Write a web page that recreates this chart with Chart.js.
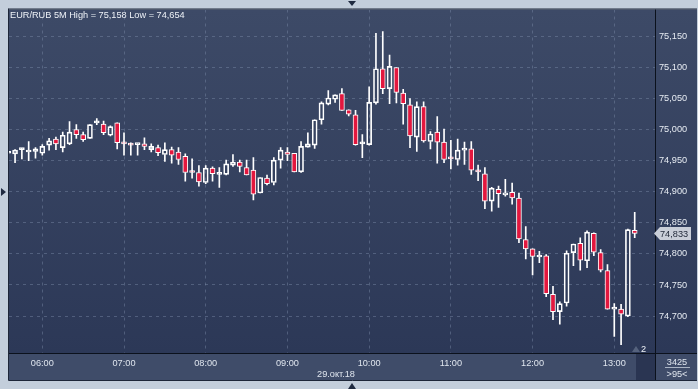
<!DOCTYPE html>
<html><head><meta charset="utf-8">
<script src="https://cdn.jsdelivr.net/npm/chart.js@4/dist/chart.umd.min.js"></script>
<style>html,body{margin:0;padding:0;background:#c3cedb;overflow:hidden}canvas{display:block}</style>
</head><body>
<canvas id="c" width="698" height="389"></canvas>
<script>
const titleText = 'EUR/RUB 5M High = 75,158 Low = 74,654';
const dateLabel = '29.окт.18';
const counterTop = '3425';
const counterBottom = '>95<';
const markerLabel = '2';

const times = ['05:35','05:40','05:45','05:50','05:55',
'06:00','06:05','06:10','06:15','06:20','06:25','06:30','06:35','06:40','06:45','06:50','06:55',
'07:00','07:05','07:10','07:15','07:20','07:25','07:30','07:35','07:40','07:45','07:50','07:55',
'08:00','08:05','08:10','08:15','08:20','08:25','08:30','08:35','08:40','08:45','08:50','08:55',
'09:00','09:05','09:10','09:15','09:20','09:25','09:30','09:35','09:40','09:45','09:50','09:55',
'10:00','10:05','10:10','10:15','10:20','10:25','10:30','10:35','10:40','10:45','10:50','10:55',
'11:00','11:05','11:10','11:15','11:20','11:25','11:30','11:35','11:40','11:45','11:50','11:55',
'12:00','12:05','12:10','12:15','12:20','12:25','12:30','12:35','12:40','12:45','12:50','12:55',
'13:00','13:05','13:10','13:15'];

const opens = [74.962,74.961,74.968,74.964,74.965,74.962,74.975,74.985,74.971,74.977,
75.000,74.992,74.986,75.011,75.009,74.991,75.011,74.978,74.976,74.976,
74.977,74.968,74.971,74.960,74.968,74.964,74.957,74.932,74.931,74.915,
74.938,74.928,74.928,74.943,74.948,74.939,74.935,74.898,74.922,74.915,
74.951,74.964,74.962,74.932,74.972,74.975,75.016,75.041,75.049,75.058,
75.032,75.024,74.977,74.976,75.043,75.098,75.066,75.100,75.059,75.040,
74.988,75.037,74.981,74.996,74.980,74.954,74.952,74.967,74.969,74.933,
74.929,74.885,74.904,74.895,74.899,74.890,74.823,74.808,74.795,74.797,
74.735,74.707,74.721,74.802,74.817,74.789,74.833,74.802,74.773,74.711,
74.711,74.700,74.838];
const highs = [74.965,74.968,74.970,74.981,74.971,74.976,74.986,74.988,74.996,75.013,
75.008,74.996,75.008,75.018,75.014,75.006,75.011,74.995,74.979,74.978,
74.987,74.977,74.975,74.979,74.972,74.971,74.961,74.953,74.942,74.942,
74.940,74.939,74.951,74.960,74.951,74.951,74.955,74.923,74.927,74.955,
74.971,74.971,74.962,74.981,74.995,75.016,75.045,75.063,75.056,75.066,
75.032,75.031,74.992,75.069,75.155,75.158,75.120,75.100,75.065,75.050,
75.045,75.045,74.997,75.021,75.001,74.983,74.985,74.980,74.981,74.943,
74.939,74.907,74.909,74.920,74.914,74.898,74.844,74.808,74.804,74.799,
74.748,74.723,74.805,74.816,74.826,74.837,74.834,74.807,74.783,74.720,
74.719,74.840,74.867];
const lows = [74.961,74.947,74.953,74.950,74.954,74.959,74.967,74.968,74.964,74.976,
74.986,74.981,74.986,75.008,74.992,74.990,74.969,74.959,74.959,74.959,
74.968,74.964,74.958,74.949,74.946,74.944,74.917,74.922,74.909,74.913,
74.917,74.907,74.927,74.941,74.932,74.927,74.887,74.898,74.911,74.911,
74.938,74.950,74.932,74.931,74.972,74.970,75.009,75.040,75.044,75.031,
75.022,74.975,74.955,74.975,75.041,75.058,75.042,75.043,75.009,74.971,
74.965,74.980,74.969,74.946,74.947,74.937,74.943,74.944,74.928,74.918,
74.873,74.869,74.875,74.893,74.880,74.818,74.792,74.766,74.786,74.731,
74.694,74.687,74.716,74.781,74.774,74.778,74.797,74.771,74.711,74.667,
74.654,74.699,74.826];
const closes = [74.964,74.967,74.969,74.967,74.969,74.973,74.982,74.977,74.991,74.996,
74.992,74.984,75.008,75.013,74.995,75.005,74.979,74.977,74.975,74.978,
74.973,74.973,74.963,74.968,74.959,74.952,74.931,74.931,74.916,74.938,
74.929,74.929,74.945,74.948,74.941,74.927,74.896,74.923,74.913,74.951,
74.967,74.960,74.932,74.973,74.977,75.016,75.043,75.051,75.056,75.031,
75.025,74.976,74.978,75.044,75.098,75.066,75.102,75.060,75.042,74.990,
75.037,74.982,74.993,74.980,74.952,74.953,74.967,74.969,74.935,74.932,
74.885,74.906,74.897,74.898,74.890,74.824,74.808,74.796,74.798,74.736,
74.707,74.720,74.801,74.816,74.790,74.835,74.803,74.774,74.711,74.713,
74.703,74.839,74.833];

const hourLabels = ['06:00','07:00','08:00','09:00','10:00','11:00','12:00','13:00'];
const yTicks = [74.70,74.75,74.80,74.85,74.90,74.95,75.00,75.05,75.10,75.15];

const toMin = s => { const p = s.split(':').map(Number); return p[0]*60 + p[1]; };
const fmt = v => v.toFixed(3).replace('.', ',');

const RED = '#e3173e';
const FONT = "'Liberation Sans', Arial, sans-serif";
const gridColor = 'rgba(125,140,168,0.45)';

const lowerWicks = times.map((t,i)=>({x: toMin(t), y: [lows[i], Math.min(opens[i], closes[i])]}));
const upperWicks = times.map((t,i)=>({x: toMin(t), y: [Math.max(opens[i], closes[i]), highs[i]]}));
const bodies = times.map((t,i)=>({x: toMin(t), y: [opens[i], closes[i]]}));
const bodyColors = opens.map((o,i)=> closes[i] >= o ? 'rgba(0,0,0,0)' : RED);

const bgPlugin = {
  id: 'bg',
  beforeDraw(chart) {
    const ctx = chart.ctx;
    const a = chart.chartArea;
    ctx.save();
    ctx.fillStyle = '#c3cedb';
    ctx.fillRect(0, 0, 698, 389);
    const g = ctx.createLinearGradient(0, a.top, 0, a.bottom);
    g.addColorStop(0, '#3d4a67');
    g.addColorStop(1, '#2c3857');
    ctx.fillStyle = g;
    ctx.fillRect(a.left, a.top, 697 - a.left, a.bottom - a.top);
    ctx.fillStyle = '#3f4c69';
    ctx.fillRect(a.left, a.bottom, 697 - a.left, 380 - a.bottom);
    ctx.fillStyle = '#2a3552';
    ctx.fillRect(636, a.bottom + 1, a.right - 636, 380 - a.bottom - 1);
    ctx.restore();
  },
  afterDraw(chart) {
    const ctx = chart.ctx;
    const a = chart.chartArea;
    const y = chart.scales.y;
    ctx.save();
    // separators
    ctx.strokeStyle = '#0b111c';
    ctx.lineWidth = 1;
    ctx.beginPath();
    ctx.moveTo(a.right + 0.5, a.top); ctx.lineTo(a.right + 0.5, 380);
    ctx.moveTo(a.left, a.bottom + 0.5); ctx.lineTo(697, a.bottom + 0.5);
    ctx.stroke();
    ctx.strokeStyle = '#1d2638';
    ctx.beginPath();
    ctx.moveTo(a.left - 0.5, a.top - 1); ctx.lineTo(a.left - 0.5, 380.5); ctx.lineTo(697, 380.5);
    ctx.moveTo(a.left - 0.5, a.top - 0.5); ctx.lineTo(697, a.top - 0.5);
    ctx.stroke();
    // title
    ctx.fillStyle = '#eef2f7';
    ctx.font = '9.2px ' + FONT;
    ctx.textAlign = 'left';
    ctx.textBaseline = 'alphabetic';
    ctx.fillText(titleText, 10, 18);
    // date
    ctx.fillStyle = '#dfe5ee';
    ctx.textAlign = 'center';
    ctx.fillText(dateLabel, 336, 377);
    // counter box
    ctx.fillText(counterTop, 677, 365);
    ctx.fillText(counterBottom, 677, 377);
    ctx.strokeStyle = '#aab4c4';
    ctx.beginPath(); ctx.moveTo(665, 367.5); ctx.lineTo(690, 367.5); ctx.stroke();
    // marker
    ctx.fillStyle = '#55627d';
    ctx.beginPath(); ctx.moveTo(632, 352); ctx.lineTo(636, 346); ctx.lineTo(640, 352); ctx.closePath(); ctx.fill();
    ctx.fillStyle = '#eef2f7';
    ctx.textAlign = 'left';
    ctx.fillText(markerLabel, 641, 352);
    // price label
    const last = closes[closes.length - 1];
    const py = Math.round(y.getPixelForValue(last));
    ctx.fillStyle = '#c9ced8';
    ctx.beginPath();
    ctx.moveTo(a.right - 1, py + 0.5);
    ctx.lineTo(a.right + 5, py - 6);
    ctx.lineTo(691, py - 6);
    ctx.lineTo(691, py + 7);
    ctx.lineTo(a.right + 5, py + 7);
    ctx.closePath();
    ctx.fill();
    ctx.fillStyle = '#1e2636';
    ctx.textBaseline = 'middle';
    ctx.fillText(fmt(last), a.right + 5, py + 1);
    // frame triangles
    ctx.fillStyle = '#1f2a40';
    ctx.beginPath(); ctx.moveTo(348, 1); ctx.lineTo(356, 1); ctx.lineTo(352, 6); ctx.closePath(); ctx.fill();
    ctx.beginPath(); ctx.moveTo(348, 389); ctx.lineTo(356, 389); ctx.lineTo(352, 383); ctx.closePath(); ctx.fill();
    ctx.beginPath(); ctx.moveTo(1, 188); ctx.lineTo(1, 196); ctx.lineTo(6, 192); ctx.closePath(); ctx.fill();
    ctx.restore();
  }
};

new Chart(document.getElementById('c'), {
  type: 'bar',
  data: {
    datasets: [
      {data: lowerWicks, backgroundColor: '#ffffff', borderWidth: 0, barThickness: 1, grouped: false},
      {data: upperWicks, backgroundColor: '#ffffff', borderWidth: 0, barThickness: 1, grouped: false},
      {data: bodies, backgroundColor: bodyColors, borderColor: '#ffffff', borderWidth: 1, borderSkipped: false,
       barThickness: 5, minBarLength: 2, grouped: false}
    ]
  },
  options: {
    responsive: false,
    animation: false,
    events: [],
    layout: {padding: {left: 9, top: 9, right: 0, bottom: 9}},
    plugins: {legend: {display: false}, tooltip: {enabled: false}},
    scales: {
      x: {
        type: 'linear', min: 335.55, max: 809.9, offset: false,
        afterBuildTicks: s => { s.ticks = hourLabels.map(h => ({value: toMin(h)})); },
        afterFit: s => { s.height = 27; },
        grid: {color: gridColor, drawTicks: false, offset: false},
        border: {display: false, dash: [3, 4]},
        ticks: {padding: 5, color: '#dfe5ee', font: {family: FONT, size: 9.2}, maxRotation: 0, autoSkip: false,
          callback: v => { const i = hourLabels.findIndex(h => toMin(h) === v); return i >= 0 ? hourLabels[i] : ''; }}
      },
      y: {
        position: 'right', min: 74.6405, max: 75.1934,
        afterBuildTicks: s => { s.ticks = yTicks.map(v => ({value: v})); },
        afterFit: s => { s.width = 43; },
        grid: {color: gridColor, drawTicks: false},
        border: {display: false, dash: [3, 4]},
        ticks: {padding: 4, color: '#e6ebf2', font: {family: FONT, size: 9.2}, callback: v => fmt(v)}
      }
    }
  },
  plugins: [bgPlugin]
});
</script>
</body></html>
